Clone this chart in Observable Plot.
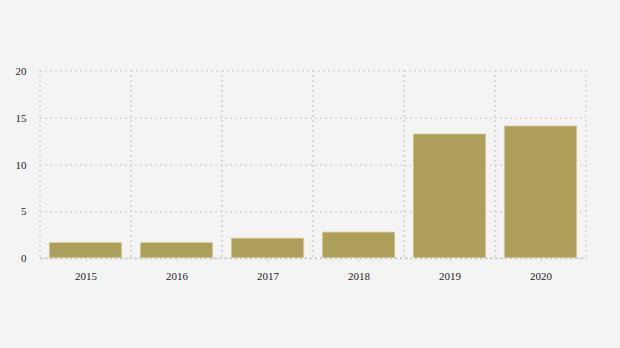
<!DOCTYPE html>
<html>
<head>
<meta charset="utf-8">
<script src="https://cdn.jsdelivr.net/npm/d3@7"></script>
<script src="https://cdn.jsdelivr.net/npm/@observablehq/plot@0.6"></script>
<style>
  html, body { margin: 0; padding: 0; background: #f4f4f4; }
  #chart svg { display: block; }
</style>
</head>
<body>
<div id="chart"></div>
<script>
const years = ["2015", "2016", "2017", "2018", "2019", "2020"];
const values = [1.7, 1.7, 2.15, 2.8, 13.3, 14.15];
const yTicks = [0, 5, 10, 15, 20];

const data = years.map((year, i) => ({year, value: values[i]}));
const gridDash = "2,3";

const chart = Plot.plot({
  width: 620,
  height: 348,
  marginTop: 71,
  marginBottom: 90,
  marginLeft: 40,
  marginRight: 34,
  style: {background: "#f4f4f4", fontFamily: "Liberation Serif, serif", fontSize: "11px", color: "#222"},
  x: {domain: years, padding: 0, label: null, tickSize: 4, tickPadding: 10},
  y: {domain: [0, 20], ticks: yTicks, label: null, tickSize: 0, tickPadding: 14},
  marks: [
    Plot.rect(years, {x: d => d, y1: 0, y2: 20, fill: "none", stroke: "#d6d6d6", strokeWidth: 1.5, strokeDasharray: gridDash}),
    Plot.gridY(yTicks.slice(1, -1), {stroke: "#d6d6d6", strokeOpacity: 1, strokeWidth: 1.5, strokeDasharray: gridDash}),
    Plot.barY(data, {x: "year", y: "value", fill: "#ad9f5a", stroke: "#efebd9", strokeWidth: 1, insetLeft: 9, insetRight: 9}),
    Plot.ruleY([0], {stroke: "#c2c2c2", strokeWidth: 1.5, strokeDasharray: gridDash}),
    Plot.axisX({tickSize: 4, tickPadding: 10, stroke: "#d6d6d6", fill: "#222"}),
    Plot.axisY({ticks: yTicks, tickSize: 0, tickPadding: 14, fill: "#222"})
  ]
});
document.getElementById("chart").appendChild(chart);
</script>
</body>
</html>
